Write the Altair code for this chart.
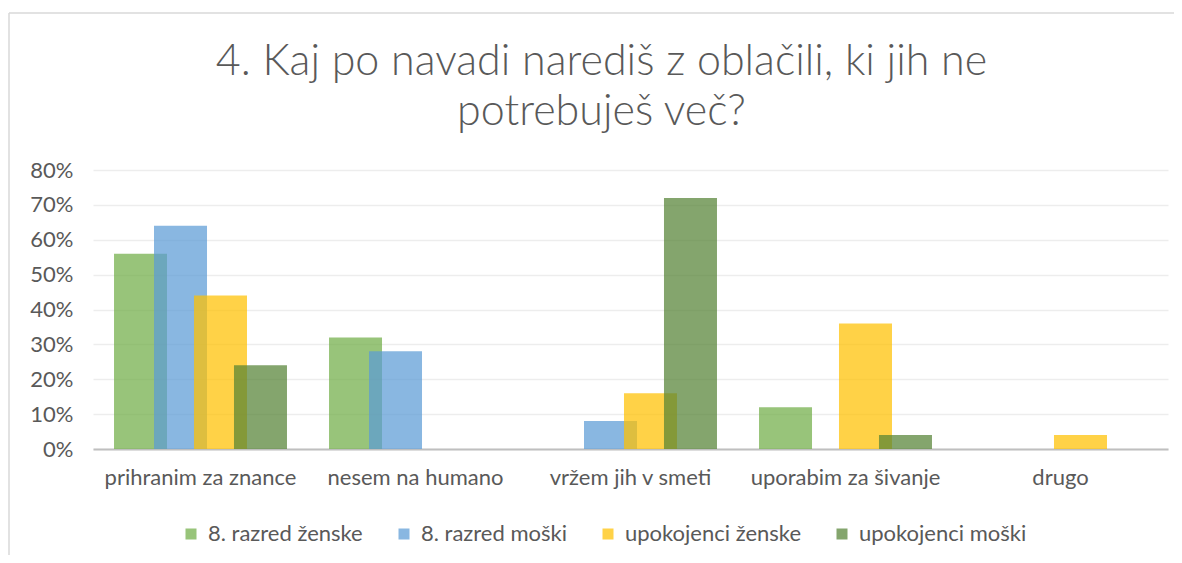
import altair as alt
import pandas as pd

categories = ["prihranim za znance", "nesem na humano", "vržem jih v smeti", "uporabim za šivanje", "drugo"]
series = ["8. razred ženske", "8. razred moški", "upokojenci ženske", "upokojenci moški"]
colors = ["#70AD47", "#5B9BD5", "#FFC000", "#548235"]
values = {
    "8. razred ženske": [0.56, 0.32, 0.00, 0.12, 0.00],
    "8. razred moški": [0.64, 0.28, 0.08, 0.00, 0.00],
    "upokojenci ženske": [0.44, 0.00, 0.16, 0.36, 0.04],
    "upokojenci moški": [0.24, 0.00, 0.72, 0.04, 0.00],
}
y_ticks = [0, 0.1, 0.2, 0.3, 0.4, 0.5, 0.6, 0.7, 0.8]

rows = []
for si, s in enumerate(series):
    for ci, c in enumerate(categories):
        rows.append({"kategorija": c, "skupina": s, "vrednost": values[s][ci], "order": si})
df = pd.DataFrame(rows)

FONT = "Lato"
GRAY = "#595959"
LBL = 22

bars = alt.Chart(df).transform_filter("datum.vrednost > 0").mark_bar(width=53, opacity=0.72).encode(
    x=alt.X("kategorija:N", sort=categories, title=None,
            scale=alt.Scale(paddingInner=0.256, paddingOuter=0.128),
            axis=alt.Axis(labelAngle=0, labelFontSize=LBL, labelColor=GRAY, labelFont=FONT,
                          labelLimit=0, labelOverlap=False,
                          ticks=False, domainColor="#BFBFBF", domainWidth=2, labelPadding=18)),
    xOffset=alt.XOffset("skupina:N", sort=series, scale=alt.Scale(paddingInner=0, paddingOuter=0)),
    y=alt.Y("vrednost:Q", title=None,
            scale=alt.Scale(domain=[0, 0.8]),
            axis=alt.Axis(format=".0%", values=y_ticks, labelFontSize=LBL, labelColor=GRAY, labelFont=FONT,
                          ticks=False, domain=False, gridColor="#EDEDED", gridWidth=1.5, labelPadding=20)),
    color=alt.Color("skupina:N", sort=series,
                    scale=alt.Scale(domain=series, range=colors),
                    legend=alt.Legend(title=None, orient="none", direction="horizontal",
                                      legendX=87, legendY=353, labelLimit=0,
                                      symbolType="square", symbolSize=121, symbolOpacity=0.72,
                                      labelFontSize=LBL, labelColor=GRAY, labelFont=FONT,
                                      labelOffset=6, columnPadding=30, symbolStrokeWidth=0)),
    order=alt.Order("order:Q"),
)

# decorative chart-area border (left and top edges visible in the reference)
frame_df = pd.DataFrame({"k": [0]})
border_left = alt.Chart(frame_df).mark_rule(color="#D9D9D9", strokeWidth=1.5).encode(
    x=alt.value(-84), y=alt.value(-157), y2=alt.value(400))
border_top = alt.Chart(frame_df).mark_rule(color="#D9D9D9", strokeWidth=1.5).encode(
    y=alt.value(-157), x=alt.value(-84), x2=alt.value(1095))

chart = alt.layer(border_left, border_top, bars).properties(
    width=1075,
    height=279,
    autosize=alt.AutoSizeParams(type="none"),
    title=alt.TitleParams(
        text=["4. Kaj po navadi narediš z oblačili, ki jih ne", "potrebuješ več?"],
        fontSize=43, font=FONT, fontWeight=300, color=GRAY, lineHeight=50,
        anchor="middle", frame="bounds", offset=-156, dx=3, baseline="alphabetic",
    ),
    padding={"left": 85, "top": 162, "right": 6, "bottom": 106},
).configure_view(stroke=None)

chart.save("out.html", embed_options={"renderer": "svg", "actions": False})
